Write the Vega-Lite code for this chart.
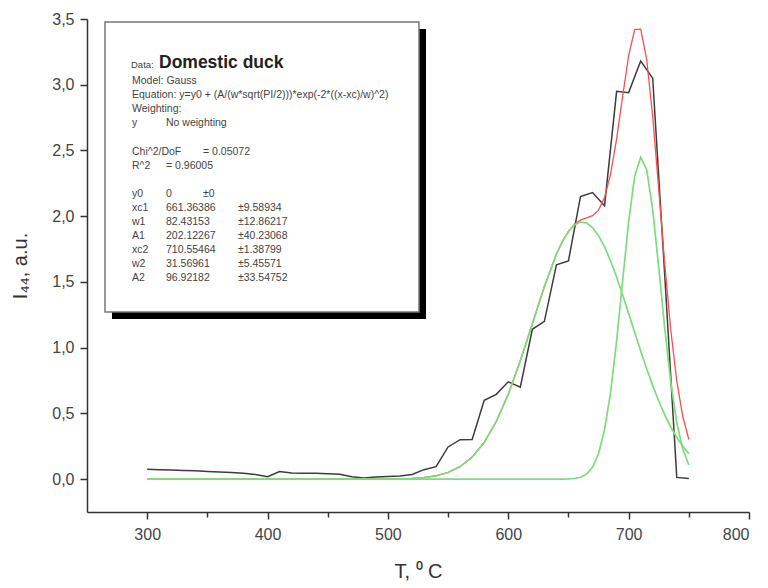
{
  "$schema": "https://vega.github.io/schema/vega-lite/v6.json",
  "width": 662,
  "height": 493,
  "autosize": {"type": "none"},
  "padding": {"left": 87, "top": 19, "right": 19, "bottom": 76},
  "background": "white",
  "config": {
    "view": {"stroke": null},
    "font": "Liberation Sans",
    "text": {"align": "left", "baseline": "alphabetic", "fontSize": 10.5, "lineHeight": 14.1, "color": "#444444"},
    "axis": {
      "grid": false,
      "domainColor": "#333333",
      "domainWidth": 1.5,
      "tickColor": "#333333",
      "tickWidth": 1.5,
      "labelFont": "Liberation Sans",
      "labelFontSize": 16,
      "labelColor": "#444444",
      "titleFont": "Liberation Sans",
      "titleFontSize": 20,
      "titleFontWeight": "normal",
      "titleColor": "#333333"
    }
  },
  "datasets": {
    "measured": [
      {"T": 300, "I": 0.075}, {"T": 310, "I": 0.072}, {"T": 320, "I": 0.069},
      {"T": 330, "I": 0.066}, {"T": 340, "I": 0.063}, {"T": 350, "I": 0.059},
      {"T": 360, "I": 0.055}, {"T": 370, "I": 0.051}, {"T": 380, "I": 0.045},
      {"T": 390, "I": 0.035}, {"T": 400, "I": 0.018}, {"T": 410, "I": 0.058},
      {"T": 420, "I": 0.046}, {"T": 430, "I": 0.045}, {"T": 440, "I": 0.044},
      {"T": 450, "I": 0.041}, {"T": 460, "I": 0.037}, {"T": 470, "I": 0.019},
      {"T": 480, "I": 0.008}, {"T": 490, "I": 0.016}, {"T": 500, "I": 0.02},
      {"T": 510, "I": 0.024}, {"T": 520, "I": 0.036}, {"T": 530, "I": 0.072},
      {"T": 540, "I": 0.095}, {"T": 550, "I": 0.245}, {"T": 560, "I": 0.3},
      {"T": 570, "I": 0.302}, {"T": 580, "I": 0.6}, {"T": 590, "I": 0.645},
      {"T": 600, "I": 0.74}, {"T": 610, "I": 0.7}, {"T": 620, "I": 1.14},
      {"T": 630, "I": 1.2}, {"T": 640, "I": 1.63}, {"T": 650, "I": 1.66},
      {"T": 660, "I": 2.15}, {"T": 670, "I": 2.18}, {"T": 680, "I": 2.08},
      {"T": 690, "I": 2.95}, {"T": 700, "I": 2.94}, {"T": 710, "I": 3.18},
      {"T": 720, "I": 3.05}, {"T": 730, "I": 1.55}, {"T": 740, "I": 0.013},
      {"T": 750, "I": 0.005}
    ],
    "gaussFit": [
      {"T": 300, "fit": 0, "peak1": 0, "peak2": 0},
      {"T": 350, "fit": 0, "peak1": 0, "peak2": 0},
      {"T": 400, "fit": 0, "peak1": 0, "peak2": 0},
      {"T": 450, "fit": 0.000004, "peak1": 0.000004, "peak2": 0},
      {"T": 470, "fit": 0.00004, "peak1": 0.00004, "peak2": 0},
      {"T": 480, "fit": 0.00012, "peak1": 0.00012, "peak2": 0},
      {"T": 490, "fit": 0.00035, "peak1": 0.00035, "peak2": 0},
      {"T": 500, "fit": 0.00092, "peak1": 0.00092, "peak2": 0},
      {"T": 510, "fit": 0.00231, "peak1": 0.00231, "peak2": 0},
      {"T": 520, "fit": 0.00546, "peak1": 0.00546, "peak2": 0},
      {"T": 530, "fit": 0.01218, "peak1": 0.01218, "peak2": 0},
      {"T": 540, "fit": 0.02562, "peak1": 0.02562, "peak2": 0},
      {"T": 550, "fit": 0.05083, "peak1": 0.05083, "peak2": 0},
      {"T": 560, "fit": 0.09506, "peak1": 0.09506, "peak2": 0},
      {"T": 570, "fit": 0.16765, "peak1": 0.16765, "peak2": 0},
      {"T": 580, "fit": 0.27875, "peak1": 0.27875, "peak2": 0},
      {"T": 590, "fit": 0.43697, "peak1": 0.43697, "peak2": 0},
      {"T": 600, "fit": 0.64582, "peak1": 0.64582, "peak2": 0},
      {"T": 610, "fit": 0.89995, "peak1": 0.89995, "peak2": 0},
      {"T": 620, "fit": 1.18234, "peak1": 1.18234, "peak2": 0},
      {"T": 630, "fit": 1.46465, "peak1": 1.46464, "peak2": 0.000005},
      {"T": 640, "fit": 1.71061, "peak1": 1.7105, "peak2": 0.00011},
      {"T": 645, "fit": 1.80858, "peak1": 1.80814, "peak2": 0.00044},
      {"T": 650, "fit": 1.88501, "peak1": 1.88345, "peak2": 0.00156},
      {"T": 655, "fit": 1.93824, "peak1": 1.93324, "peak2": 0.005},
      {"T": 660, "fit": 1.96985, "peak1": 1.95534, "peak2": 0.01451},
      {"T": 665, "fit": 1.98691, "peak1": 1.94883, "peak2": 0.03808},
      {"T": 670, "fit": 2.00427, "peak1": 1.91395, "peak2": 0.09032},
      {"T": 675, "fit": 2.04604, "peak1": 1.85222, "peak2": 0.19382},
      {"T": 680, "fit": 2.14251, "peak1": 1.7663, "peak2": 0.37621},
      {"T": 685, "fit": 2.3204, "peak1": 1.65977, "peak2": 0.66063},
      {"T": 690, "fit": 2.58614, "peak1": 1.53693, "peak2": 1.04921},
      {"T": 695, "fit": 2.90973, "peak1": 1.40233, "peak2": 1.5074},
      {"T": 700, "fit": 3.2197, "peak1": 1.26084, "peak2": 1.95886},
      {"T": 705, "fit": 3.41956, "peak1": 1.11704, "peak2": 2.30252},
      {"T": 710, "fit": 3.42327, "peak1": 0.9752, "peak2": 2.44807},
      {"T": 715, "fit": 3.19328, "peak1": 0.83891, "peak2": 2.35437},
      {"T": 720, "fit": 2.75924, "peak1": 0.71116, "peak2": 2.04808},
      {"T": 725, "fit": 2.20562, "peak1": 0.59406, "peak2": 1.61156},
      {"T": 730, "fit": 1.63596, "peak1": 0.48899, "peak2": 1.14697},
      {"T": 735, "fit": 1.13502, "peak1": 0.39657, "peak2": 0.73845},
      {"T": 740, "fit": 0.74693, "peak1": 0.31698, "peak2": 0.42995},
      {"T": 745, "fit": 0.47612, "peak1": 0.24964, "peak2": 0.22648},
      {"T": 750, "fit": 0.30167, "peak1": 0.19376, "peak2": 0.10791}
    ]
  },
  "layer": [
    {
      "data": {"name": "measured"},
      "mark": {"type": "line", "color": "#3c3c3c", "strokeWidth": 1.5},
      "encoding": {
        "x": {
          "field": "T",
          "type": "quantitative",
          "scale": {"domain": [250, 800], "nice": false, "zero": false},
          "axis": {
            "title": "T, \u2070 C",
            "values": [300, 350, 400, 450, 500, 550, 600, 650, 700, 750, 800],
            "labelExpr": "datum.value % 100 === 0 ? datum.label : ''",
            "tickSize": {"condition": {"test": "datum.value % 100 === 0", "value": 7}, "value": 5},
            "labelPadding": 7,
            "titlePadding": 19
          }
        },
        "y": {
          "field": "I",
          "type": "quantitative",
          "scale": {"domain": [-0.25, 3.5], "nice": false, "zero": false},
          "axis": {
            "title": "I\u2084\u2084, a.u.",
            "values": [0, 0.25, 0.5, 0.75, 1, 1.25, 1.5, 1.75, 2, 2.25, 2.5, 2.75, 3, 3.25, 3.5],
            "labelExpr": "datum.value % 0.5 === 0 ? replace(format(datum.value, '.1f'), '.', ',') : ''",
            "tickSize": {"condition": {"test": "datum.value % 0.5 === 0", "value": 7}, "value": 4},
            "labelPadding": 6,
            "titlePadding": 21
          }
        }
      }
    },
    {
      "data": {"name": "gaussFit"},
      "mark": {"type": "line", "color": "#ff4d4d", "strokeWidth": 1.3},
      "encoding": {
        "x": {"field": "T", "type": "quantitative"},
        "y": {"field": "fit", "type": "quantitative"}
      }
    },
    {
      "data": {"name": "gaussFit"},
      "transform": [{"fold": ["peak1", "peak2"], "as": ["peak", "value"]}],
      "mark": {"type": "line", "color": "#7ddc7d", "strokeWidth": 1.7},
      "encoding": {
        "x": {"field": "T", "type": "quantitative"},
        "y": {"field": "value", "type": "quantitative"},
        "detail": {"field": "peak", "type": "nominal"}
      }
    },
    {
      "data": {"values": [{}]},
      "mark": {"type": "rect", "fill": "black"},
      "encoding": {
        "x": {"datum": 270.77}, "x2": {"datum": 531.65},
        "y": {"datum": 3.4239}, "y2": {"datum": 1.218}
      }
    },
    {
      "data": {"values": [{}]},
      "mark": {"type": "rect", "fill": "white", "stroke": "#777777", "strokeWidth": 1.5},
      "encoding": {
        "x": {"datum": 264.95}, "x2": {"datum": 525.83},
        "y": {"datum": 3.4772}, "y2": {"datum": 1.2713}
      }
    },
    {
      "data": {"values": [{}]},
      "mark": {"type": "text", "text": "Data:", "fontSize": 9.5},
      "encoding": {"x": {"datum": 286.56}, "y": {"datum": 3.1273}}
    },
    {
      "data": {"values": [{}]},
      "mark": {"type": "text", "text": "Domestic duck", "fontSize": 17.5, "fontWeight": "bold", "color": "#222222"},
      "encoding": {"x": {"datum": 309.82}, "y": {"datum": 3.1273}}
    },
    {
      "data": {"values": [{}]},
      "mark": {"type": "text", "text": ["Model: Gauss", "Equation: y=y0 + (A/(w*sqrt(PI/2)))*exp(-2*((x-xc)/w)^2)", "Weighting:", "y"]},
      "encoding": {"x": {"datum": 287.39}, "y": {"datum": 3.0056}}
    },
    {
      "data": {"values": [{}]},
      "mark": {"type": "text", "text": "No weighting"},
      "encoding": {"x": {"datum": 315.63}, "y": {"datum": 2.6839}}
    },
    {
      "data": {"values": [{}]},
      "mark": {"type": "text", "text": ["Chi^2/DoF", "R^2"]},
      "encoding": {"x": {"datum": 287.39}, "y": {"datum": 2.4693}}
    },
    {
      "data": {"values": [{}]},
      "mark": {"type": "text", "text": "= 0.05072"},
      "encoding": {"x": {"datum": 346.37}, "y": {"datum": 2.4693}}
    },
    {
      "data": {"values": [{}]},
      "mark": {"type": "text", "text": "=  0.96005"},
      "encoding": {"x": {"datum": 315.63}, "y": {"datum": 2.3621}}
    },
    {
      "data": {"values": [{}]},
      "mark": {"type": "text", "text": ["y0", "xc1", "w1", "A1", "xc2", "w2", "A2"]},
      "encoding": {"x": {"datum": 287.39}, "y": {"datum": 2.1476}}
    },
    {
      "data": {"values": [{}]},
      "mark": {"type": "text", "text": ["0", "661.36386", "82.43153", "202.12267", "710.55464", "31.56961", "96.92182"]},
      "encoding": {"x": {"datum": 315.63}, "y": {"datum": 2.1476}}
    },
    {
      "data": {"values": [{}]},
      "mark": {"type": "text", "text": "\u00b10"},
      "encoding": {"x": {"datum": 346.37}, "y": {"datum": 2.1476}}
    },
    {
      "data": {"values": [{}]},
      "mark": {"type": "text", "text": ["\u00b19.58934", "\u00b112.86217", "\u00b140.23068", "\u00b11.38799", "\u00b15.45571", "\u00b133.54752"]},
      "encoding": {"x": {"datum": 375.45}, "y": {"datum": 2.0403}}
    }
  ]
}
